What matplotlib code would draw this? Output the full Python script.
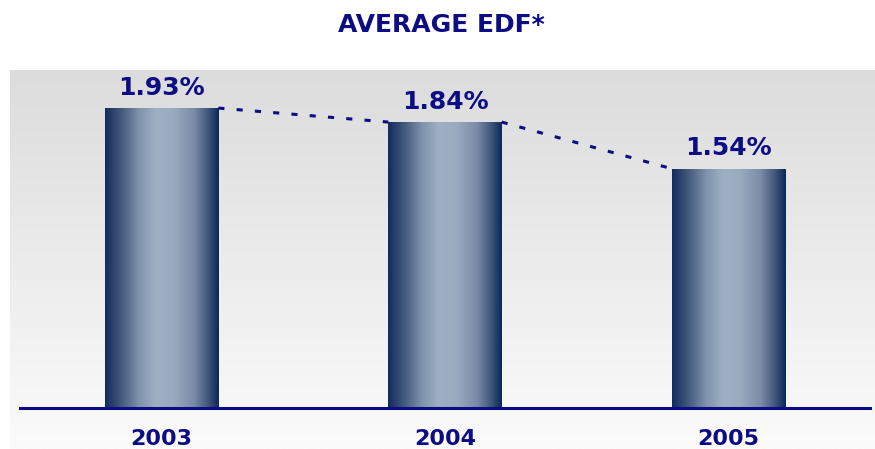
import numpy as np
import matplotlib
matplotlib.use("Agg")
import matplotlib.pyplot as plt
from matplotlib.colors import LinearSegmentedColormap
from matplotlib.patches import Rectangle

years = ["2003", "2004", "2005"]
edf_values = [1.93, 1.84, 1.54]
value_labels = ["1.93%", "1.84%", "1.54%"]
title_text = "AVERAGE EDF*"

NAVY = "#0c0c84"
W, H = 875, 449

fig = plt.figure(figsize=(W / 100, H / 100), dpi=100)
fig.patch.set_facecolor("white")

# soft grey backdrop, darker at the top
bg_ax = fig.add_axes([10 / W, 0, 1 - 10 / W, (H - 70) / H])
bg_ax.set_axis_off()
grad = np.linspace(0, 1, 256).reshape(-1, 1)
bg_cmap = LinearSegmentedColormap.from_list("bg", ["#fbfbfb", "#dcdcdc"])
bg_ax.imshow(grad, cmap=bg_cmap, aspect="auto", origin="lower", extent=[0, 1, 0, 1])
bg_ax.set_xlim(0, 1)
bg_ax.set_ylim(0, 1)

# main plotting area
left, right = 20 / W, 870 / W
bottom, top = (H - 408) / H, (H - 70) / H
ax = fig.add_axes([left, bottom, right - left, top - bottom])
ax.patch.set_alpha(0)
ymax = 338 / 155.4
ax.set_xlim(-0.5, 2.5)
ax.set_ylim(0, ymax)
for s in ["top", "right", "left"]:
    ax.spines[s].set_visible(False)
ax.spines["bottom"].set_color(NAVY)
ax.spines["bottom"].set_linewidth(2.2)
ax.set_yticks([])
ax.set_xticks([])

bar_cmap = LinearSegmentedColormap.from_list(
    "bar",
    [(0.0, "#132c5e"), (0.12, "#3b5177"), (0.3, "#7f93ac"), (0.45, "#9eb1c4"),
     (0.6, "#98abbf"), (0.78, "#7a8ca8"), (0.9, "#45597d"), (1.0, "#0a285b")],
)
hgrad = np.linspace(0, 1, 256).reshape(1, -1)

bar_w = 0.4
xs = np.arange(len(years))
bars = ax.bar(xs, edf_values, width=bar_w, color="none", edgecolor="none", zorder=2)
for b in bars:
    x0, y0, w, h = b.get_x(), b.get_y(), b.get_width(), b.get_height()
    im = ax.imshow(hgrad, cmap=bar_cmap, aspect="auto",
                   extent=[x0, x0 + w, y0, y0 + h], zorder=2)
    clip = Rectangle((x0, y0), w, h, transform=ax.transData)
    im.set_clip_path(clip)
ax.set_xlim(-0.5, 2.5)
ax.set_ylim(0, ymax)

# dotted trend line joining neighbouring bar tops
for i in range(len(xs) - 1):
    x_a = xs[i] + bar_w / 2
    x_b = xs[i + 1] - bar_w / 2
    ln, = ax.plot([x_a, x_b], [edf_values[i], edf_values[i + 1]],
                  color=NAVY, lw=2.2, solid_capstyle="butt", zorder=3)
    ln.set_dashes([2, 4])
    ln.set_dash_capstyle("butt")

for x, v, lab in zip(xs, edf_values, value_labels):
    ax.annotate(lab, (x, v), xytext=(0, 6), textcoords="offset points",
                ha="center", va="bottom", fontsize=18, fontweight="bold",
                color=NAVY, family="DejaVu Sans")

for x, yr in zip(xs, years):
    ax.annotate(yr, (x, 0), xytext=(0, -22), textcoords="offset points",
                ha="center", va="center", fontsize=16, fontweight="bold",
                color=NAVY, family="DejaVu Sans", annotation_clip=False)

fig.text(441 / W, 1 - 25 / H, title_text, ha="center", va="center",
         fontsize=18, fontweight="bold", color=NAVY, family="DejaVu Sans")

fig.savefig("out.png", dpi=100, facecolor="white")
